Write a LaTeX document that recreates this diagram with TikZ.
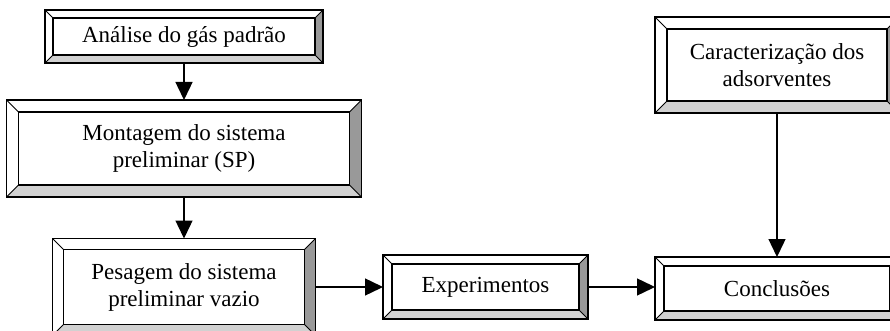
\documentclass[tikz,border=0pt]{standalone}
\usepackage{fontspec}
\setmainfont{Liberation Serif}
\usetikzlibrary{arrows.meta,calc}
\definecolor{bevelDark}{gray}{0.6}
\definecolor{bevelLight}{gray}{0.82}
\tikzset{
	stage/.style={
		draw,
		line width=1.4pt,
		fill=white,
		inner sep=0pt,
		outer sep=0pt,
		align=center,
		font=\fontsize{23}{27}\selectfont
	},
	every edge/.style={
		draw,
		-{Triangle[length=18pt,width=17pt]},
		line width=1.4pt
	}
}
% bevelled frame round a stage node: \bevel{node}{depth}
\newcommand{\bevel}[2]{%
	\fill[white] (#1.north west) -- (#1.north east) -- ($(#1.north east)+(-#2,#2)$) -- ($(#1.north west)+(#2,#2)$) -- cycle;
	\fill[white] (#1.north west) -- (#1.south west) -- ($(#1.south west)+(#2,-#2)$) -- ($(#1.north west)+(#2,#2)$) -- cycle;
	\fill[bevelDark] (#1.north east) -- (#1.south east) -- ($(#1.south east)+(-#2,-#2)$) -- ($(#1.north east)+(-#2,#2)$) -- cycle;
	\fill[bevelLight] (#1.south west) -- (#1.south east) -- ($(#1.south east)+(-#2,-#2)$) -- ($(#1.south west)+(#2,-#2)$) -- cycle;
	\draw[line width=1.4pt] (#1.north west) rectangle (#1.south east);
	\draw[line width=1.4pt] ($(#1.north west)+(#2,#2)$) rectangle ($(#1.south east)+(-#2,-#2)$);
	\draw[line width=1pt] (#1.north west) -- ++(#2,#2) (#1.north east) -- ++(-#2,#2)
		(#1.south west) -- ++(#2,-#2) (#1.south east) -- ++(-#2,-#2);
}

\begin{document}
\begin{tikzpicture}[x=1pt,y=-1pt]
	\useasboundingbox (0,0) rectangle (890,331);
	\node[stage, minimum width=278pt, minimum height=53pt] (analise) at (184,36.5) {};
	\bevel{analise}{8}
	\node[font=\fontsize{23}{27}\selectfont] (analiseTxt) at (analise) {Análise do gás padrão};

	\node[stage, minimum width=355pt, minimum height=97pt] (montagem) at (184,148.5) {};
	\bevel{montagem}{12}
	\node[font=\fontsize{23}{27}\selectfont, align=center] (montagemTxt) at (montagem) {Montagem do sistema\\preliminar (SP)};

	\node[stage, minimum width=263pt, minimum height=97pt] (pesagem) at (184,287) {};
	\bevel{pesagem}{11}
	\node[font=\fontsize{23}{27}\selectfont, align=center] (pesagemTxt) at (pesagem) {Pesagem do sistema\\preliminar vazio};

	\node[stage, minimum width=205pt, minimum height=64pt] (exper) at (485.5,287) {};
	\bevel{exper}{9}
	\node[font=\fontsize{23}{27}\selectfont] (experTxt) at (exper) {Experimentos};

	\node[stage, minimum width=244pt, minimum height=63pt] (concl) at (777,288.5) {};
	\bevel{concl}{9}
	\node[font=\fontsize{23}{27}\selectfont] (conclTxt) at (concl) {Conclusões};

	\node[stage, minimum width=244pt, minimum height=96pt] (caract) at (777,65) {};
	\bevel{caract}{12}
	\node[font=\fontsize{23}{27}\selectfont, align=center] (caractTxt) at (caract) {Caracterização dos\\adsorventes};

	\draw (analise.south) edge (montagem.north)
		(montagem.south) edge (pesagem.north)
		(pesagem.east) edge (exper.west)
		(exper.east) edge (exper.east -| concl.west)
		(caract.south) edge (concl.north);
\end{tikzpicture}
\end{document}
